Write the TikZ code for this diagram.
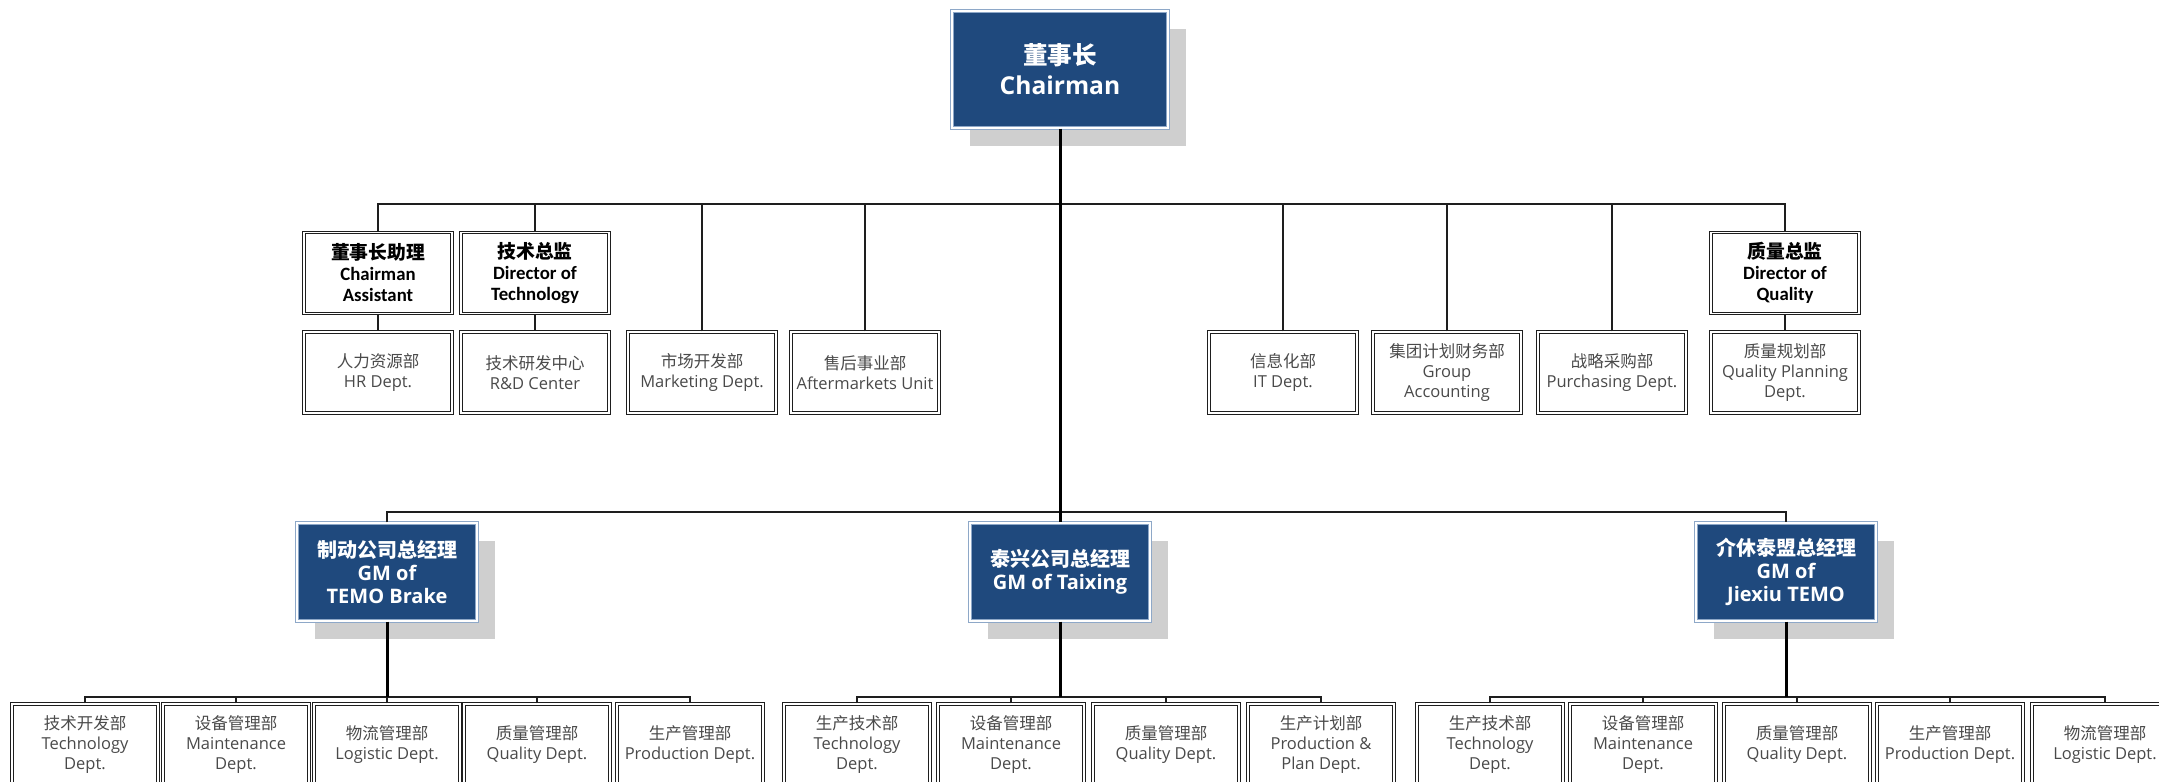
\documentclass[tikz,border=0pt]{standalone}
\usepackage{fontspec}
\setmainfont{Open Sans}
\newfontfamily\cjk{Noto Sans CJK SC}
\newfontfamily\calib{Carlito}
\usetikzlibrary{shadows}
\definecolor{cblue}{HTML}{1F497D}
\definecolor{cedge}{HTML}{8EA8C8}
\definecolor{cline}{HTML}{1E1E1E}
\definecolor{ctext}{HTML}{4A4A4A}
\definecolor{cshadow}{HTML}{CFCFCF}
\newcommand\zh[1]{{\cjk #1}}
\tikzset{
  bluebox/.style={rectangle, fill=cblue, draw=cedge, line width=0.7pt,
    double=white, double distance=0.6pt, text=white, align=center, inner sep=0pt,
    drop shadow={shadow xshift=9pt, shadow yshift=-9pt, fill=cshadow, opacity=1}},
  chairbox/.style={bluebox, minimum width=108pt, minimum height=58.5pt,
    font=\bfseries\fontsize{12.3}{15}\selectfont},
  gmbox/.style={bluebox, minimum width=90pt, minimum height=49pt,
    font=\bfseries\fontsize{10}{11.5}\selectfont},
  titlebox/.style={rectangle, fill=white, draw=cline, line width=0.65pt,
    double=white, double distance=0.6pt, align=center, inner sep=0pt,
    minimum width=74pt, minimum height=40.5pt,
    font=\calib\bfseries\fontsize{9.4}{10.5}\selectfont},
  deptbox/.style={rectangle, fill=white, draw=cline, line width=0.65pt,
    double=white, double distance=0.6pt, align=center, inner sep=0pt,
    minimum width=74pt, minimum height=40.5pt, text=ctext,
    font=\fontsize{8.25}{10}\selectfont},
  lowbox/.style={deptbox, minimum width=73pt},
  trunk/.style={draw=black, line width=1.5pt},
  bus/.style={draw=cline, line width=1pt},
}
\begin{document}
\begin{tikzpicture}[x=0.5pt,y=-0.5pt]
\useasboundingbox (0,0) rectangle (2159,782);
\clip (0,0) rectangle (2159,782);

% top
\node[chairbox] (chair) at (1060,69.5) {\zh{董事长}\\Chairman};

% title boxes
\node[titlebox] (asst) at (378,273) {\zh{董事长助理}\\Chairman\\Assistant};
\node[titlebox] (tdir) at (535,273) {\zh{技术总监}\\Director of\\Technology};
\node[titlebox] (qdir) at (1785,273) {\zh{质量总监}\\Director of\\Quality};

% first-level departments
\node[deptbox] (hr)  at (378,372.5)  {\zh{人力资源部}\\HR Dept.};
\node[deptbox] (rd)  at (535,372.5)  {\zh{技术研发中心}\\R\&D Center};
\node[deptbox] (mkt) at (702,372.5)  {\zh{市场开发部}\\Marketing Dept.};
\node[deptbox] (aft) at (865,372.5)  {\zh{售后事业部}\\Aftermarkets Unit};
\node[deptbox] (it)  at (1283,372.5) {\zh{信息化部}\\IT Dept.};
\node[deptbox] (acc) at (1447,372.5) {\zh{集团计划财务部}\\Group\\Accounting};
\node[deptbox] (pur) at (1612,372.5) {\zh{战略采购部}\\Purchasing Dept.};
\node[deptbox] (qp)  at (1785,372.5) {\zh{质量规划部}\\Quality Planning\\Dept.};

% general managers
\node[gmbox] (gm1) at (387,572)  {\zh{制动公司总经理}\\GM of\\TEMO Brake};
\node[gmbox] (gm2) at (1060,572) {\zh{泰兴公司总经理}\\GM of Taixing};
\node[gmbox] (gm3) at (1786,572) {\zh{介休泰盟总经理}\\GM of\\Jiexiu TEMO};

% bottom rows
\node[lowbox] (l1) at (85,744.5)   {\zh{技术开发部}\\Technology\\Dept.};
\node[lowbox] (l2) at (236,744.5)  {\zh{设备管理部}\\Maintenance\\Dept.};
\node[lowbox] (l3) at (387,744.5)  {\zh{物流管理部}\\Logistic Dept.};
\node[lowbox] (l4) at (537,744.5)  {\zh{质量管理部}\\Quality Dept.};
\node[lowbox] (l5) at (690,744.5)  {\zh{生产管理部}\\Production Dept.};

\node[lowbox] (m1) at (857,744.5)  {\zh{生产技术部}\\Technology\\Dept.};
\node[lowbox] (m2) at (1011,744.5) {\zh{设备管理部}\\Maintenance\\Dept.};
\node[lowbox] (m3) at (1166,744.5) {\zh{质量管理部}\\Quality Dept.};
\node[lowbox] (m4) at (1321,744.5) {\zh{生产计划部}\\Production \&\\Plan Dept.};

\node[lowbox] (r1) at (1490,744.5) {\zh{生产技术部}\\Technology\\Dept.};
\node[lowbox] (r2) at (1643,744.5) {\zh{设备管理部}\\Maintenance\\Dept.};
\node[lowbox] (r3) at (1797,744.5) {\zh{质量管理部}\\Quality Dept.};
\node[lowbox] (r4) at (1950,744.5) {\zh{生产管理部}\\Production Dept.};
\node[lowbox] (r5) at (2105,744.5) {\zh{物流管理部}\\Logistic Dept.};

% bus coordinates
\coordinate (ub) at (1060,204);
\coordinate (lb) at (1060,512);
\coordinate (g1) at (387,697);
\coordinate (g2) at (1060,697);
\coordinate (g3) at (1786,697);

% upper bus
\draw[bus] (asst.north) |- (ub) -| (qdir.north);
\foreach \n in {tdir,mkt,aft,it,acc,pur} \draw[bus] (\n.north) -- (\n.north |- ub);
\draw[bus] (asst.south) -- (hr.north);
\draw[bus] (tdir.south) -- (rd.north);
\draw[bus] (qdir.south) -- (qp.north);

% lower bus
\draw[bus] (gm1.north) |- (lb) -| (gm3.north);

% bottom buses
\draw[bus] (l1.north) |- (g1) -| (l5.north);
\foreach \n in {l2,l3,l4} \draw[bus] (\n.north) -- (\n.north |- g1);
\draw[bus] (m1.north) |- (g2) -| (m4.north);
\foreach \n in {m2,m3} \draw[bus] (\n.north) -- (\n.north |- g2);
\draw[bus] (r1.north) |- (g3) -| (r5.north);
\foreach \n in {r2,r3,r4} \draw[bus] (\n.north) -- (\n.north |- g3);

% trunks
\draw[trunk] (chair.south) -- (gm2.north);
\draw[trunk] (gm1.south) -- (g1);
\draw[trunk] (gm2.south) -- (g2);
\draw[trunk] (gm3.south) -- (g3);
\end{tikzpicture}
\end{document}
